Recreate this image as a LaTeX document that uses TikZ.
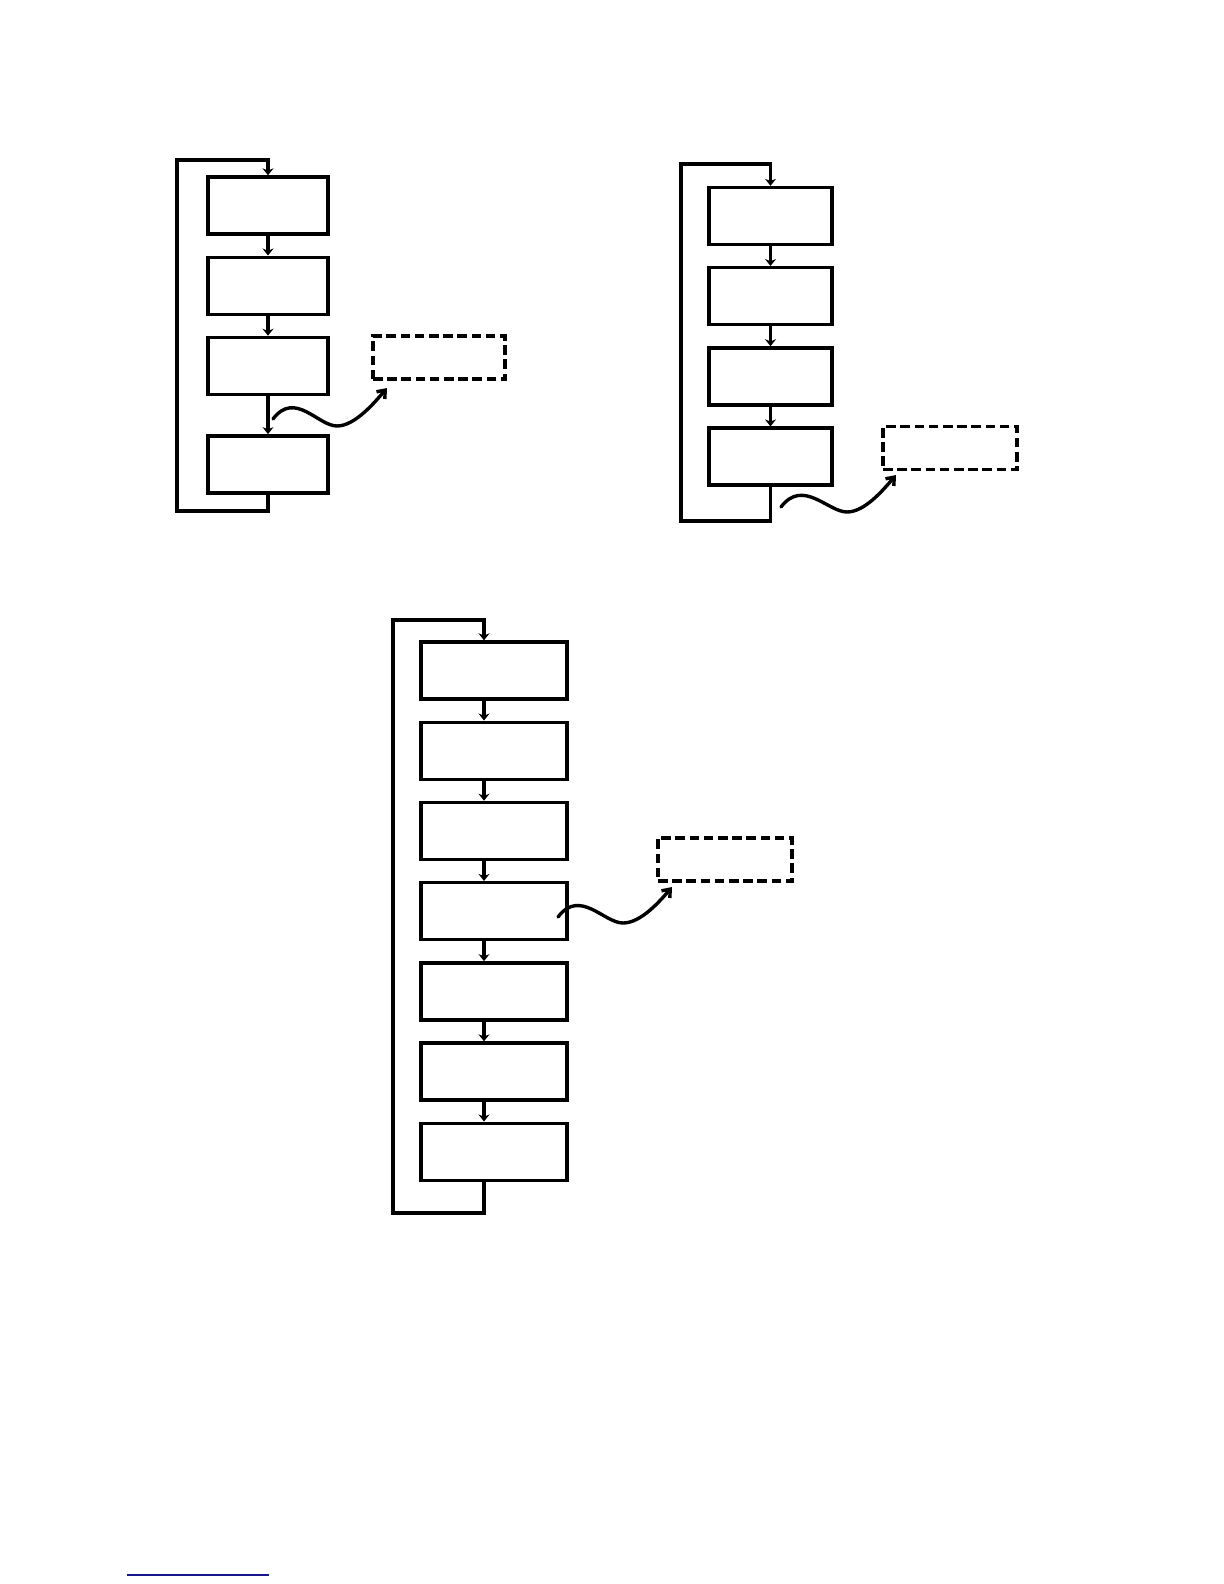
\documentclass[tikz,border=0pt]{standalone}
\usepackage{tikz}
\usetikzlibrary{arrows.meta,positioning}
\definecolor{linkblue}{RGB}{24,24,140}

\begin{document}
\begin{tikzpicture}[
  x=0.5bp, y=-0.5bp,
  node distance=9.9bp,
  box/.style={draw, line width=1.7bp, minimum width=#1, minimum height=28.5bp, inner sep=0pt},
  box/.default=60bp,
  outbox/.style={draw, dash pattern=on 4.8bp off 2.3bp, line width=1.6bp, minimum width=67bp, minimum height=21.5bp, inner sep=0pt},
  arr/.style={line width=1.6bp, -{Stealth[length=3.5bp,width=5.5bp]}},
  backline/.style={line width=1.7bp, -{Stealth[length=3.5bp,width=5.5bp]}},
  wave/.style={line width=1.7bp, line cap=round, -{Straight Barb[length=3.5bp,width=5.5bp]}}
]
\useasboundingbox (0,0) rectangle (1224,1584);

% first loop
\node[box] (a1) at (268,205.5) {};
\node[box, below=of a1] (a2) {};
\node[box, below=of a2] (a3) {};
\node[box, below=19bp of a3] (a4) {};
\node[outbox, minimum width=66bp] (o1) at (439,357.5) {};
\coordinate (l1b) at (177,511);
\coordinate (l1t) at (177,160);
\coordinate (w1) at (273,419);
\coordinate (t1) at (387,388);
\draw[arr] (a1) -- (a2);
\draw[arr] (a2) -- (a3);
\draw[arr] (a3) -- (a4);
\draw[backline] (a4.south) |- (l1b) -- (l1t) -| (a1.north);
\draw[wave] (w1) .. controls (295,390) and (318,426) .. (337,426) .. controls (355,426) and (375,402) .. (t1);

% second loop
\node[box=61.5bp] (b1) at (770.5,216) {};
\node[box=61.5bp, below=of b1] (b2) {};
\node[box=61.5bp, below=of b2] (b3) {};
\node[box=61.5bp, below=of b3] (b4) {};
\node[outbox] (o2) at (950,448) {};
\coordinate (l2b) at (681,521);
\coordinate (l2t) at (681,164);
\coordinate (w2) at (781,507);
\coordinate (t2) at (896,475);
\draw[arr] (b1) -- (b2);
\draw[arr] (b2) -- (b3);
\draw[arr] (b3) -- (b4);
\draw[backline] (b4.south) |- (l2b) -- (l2t) -| (b1.north);
\draw[wave] (w2) .. controls (803,478) and (828,512) .. (847,512) .. controls (865,512) and (884,489) .. (t2);

% third loop
\node[box=73bp] (c1) at (494,670.5) {};
\node[box=73bp, below=of c1] (c2) {};
\node[box=73bp, below=of c2] (c3) {};
\node[box=73bp, below=of c3] (c4) {};
\node[box=73bp, below=of c4] (c5) {};
\node[box=73bp, below=of c5] (c6) {};
\node[box=73bp, below=of c6] (c7) {};
\node[outbox] (o3) at (725,859.5) {};
\coordinate (l3b) at (393,1213);
\coordinate (l3t) at (393,620);
\coordinate (w3) at (558,917);
\coordinate (t3) at (672,887);
\foreach \i [count=\j from 2] in {1,...,6}
  \draw[arr] ([xshift=-5bp]c\i.south) -- ([xshift=-5bp]c\j.north);
\draw[backline] ([xshift=-5bp]c7.south) |- (l3b) -- (l3t) -| ([xshift=-5bp]c1.north);
\draw[wave] (w3) .. controls (580,888) and (604,923) .. (623,923) .. controls (641,923) and (660,901) .. (t3);

\draw[linkblue, line width=0.8bp] (127,1575) -- (269,1575);
\end{tikzpicture}
\end{document}
